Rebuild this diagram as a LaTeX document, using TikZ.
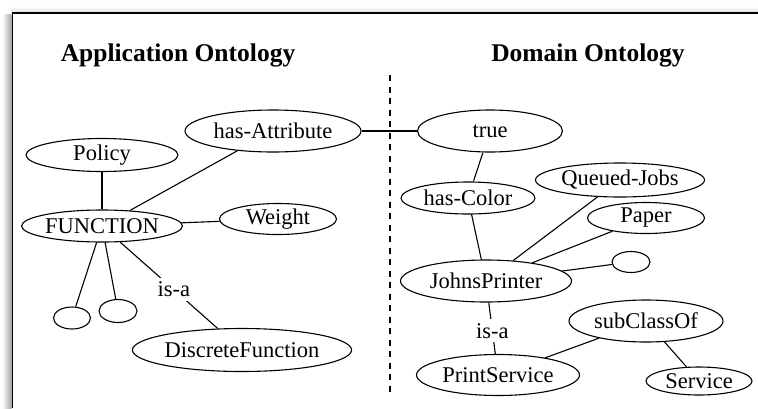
\documentclass[tikz,border=0pt]{standalone}
\usepackage{fontspec}
\setmainfont{Liberation Serif}
\usetikzlibrary{shapes.geometric}
\begin{document}
\begin{tikzpicture}[x=1pt,y=-1pt,
  concept/.style={ellipse,draw,line width=1.1pt,inner sep=0pt,
    font=\fontsize{22.5}{24}\selectfont},
  link/.style={line width=1.1pt},
  rel/.style={fill=white,inner xsep=2pt,inner ysep=4pt,
    font=\fontsize{22.5}{24}\selectfont},
  heading/.style={font=\bfseries\fontsize{25.5}{28}\selectfont,anchor=base}]

% canvas
\fill[white] (0,0) rectangle (758,408);
\useasboundingbox (0,0) rectangle (758,408);

% frame with a soft shadow on its left and top
\shade[left color=white,right color=black!35] (2,14) rectangle (11.5,408);
\shade[top color=white,bottom color=black!12] (11,6) rectangle (758,12.5);
\draw[line width=1.8pt] (12.5,408) -- (12.5,13) -- (758,13);

% headings
\node[heading] (apptitle) at (178,61) {Application Ontology};
\node[heading] (domtitle) at (588,61) {Domain Ontology};

% divider between the two ontologies
\draw[line width=1.2pt,dash pattern=on 6pt off 5.5pt] (390,75) -- (390,395);

% application ontology
\node[concept,minimum width=176pt,minimum height=42pt] (hasattr) at (273,131) {has-Attribute};
\node[concept,minimum width=152pt,minimum height=33pt] (policy) at (102,155) {Policy};
\node[concept,minimum width=152pt,minimum height=32pt] (function) at (102,226) {FUNCTION};
\node[concept,minimum width=117pt,minimum height=31pt] (weight) at (278,219) {Weight};
\node[concept,minimum width=37pt,minimum height=22pt] (blankA) at (72,318) {};
\node[concept,minimum width=38pt,minimum height=23pt] (blankB) at (118,311) {};
\node[concept,minimum width=218pt,minimum height=43pt] (discrete) at (242,350) {DiscreteFunction};

% domain ontology
\node[concept,minimum width=145pt,minimum height=42pt] (true) at (490,131) {true};
\node[concept,minimum width=134pt,minimum height=32pt] (hascolor) at (468,198) {has-Color};
\node[concept,minimum width=169pt,minimum height=34pt] (queued) at (620,180) {Queued-Jobs};
\node[concept,minimum width=117pt,minimum height=31pt] (paper) at (646,218) {Paper};
\node[concept,minimum width=38pt,minimum height=21pt] (blankC) at (631,262) {};
\node[concept,minimum width=171pt,minimum height=42pt] (johns) at (486,281) {JohnsPrinter};
\node[concept,minimum width=163pt,minimum height=41pt] (printsvc) at (498,375) {PrintService};
\node[concept,minimum width=154pt,minimum height=42pt] (subclass) at (646,321) {subClassOf};
\node[concept,minimum width=106pt,minimum height=28pt] (service) at (699,381) {Service};

% connectors
\draw[link] (policy) -- (function);
\draw[link] (function) -- (hasattr);
\draw[link] (function) -- (weight);
\draw[link] (function) -- (blankA);
\draw[link] (function) -- (blankB);
\draw[link] (function) -- node[rel,pos=0.55] (isaA) {is-a} (discrete);
\draw[link] (hasattr) -- (true);
\draw[link] (true) -- (hascolor);
\draw[link] (hascolor) -- (johns);
\draw[link] (queued) -- (johns);
\draw[link] (paper) -- (johns);
\draw[link] (blankC) -- (johns);
\draw[link] (johns) -- node[rel,pos=0.55] (isaB) {is-a} (printsvc);
\draw[link] (printsvc) -- (subclass);
\draw[link] (subclass) -- (service);
\end{tikzpicture}
\end{document}
